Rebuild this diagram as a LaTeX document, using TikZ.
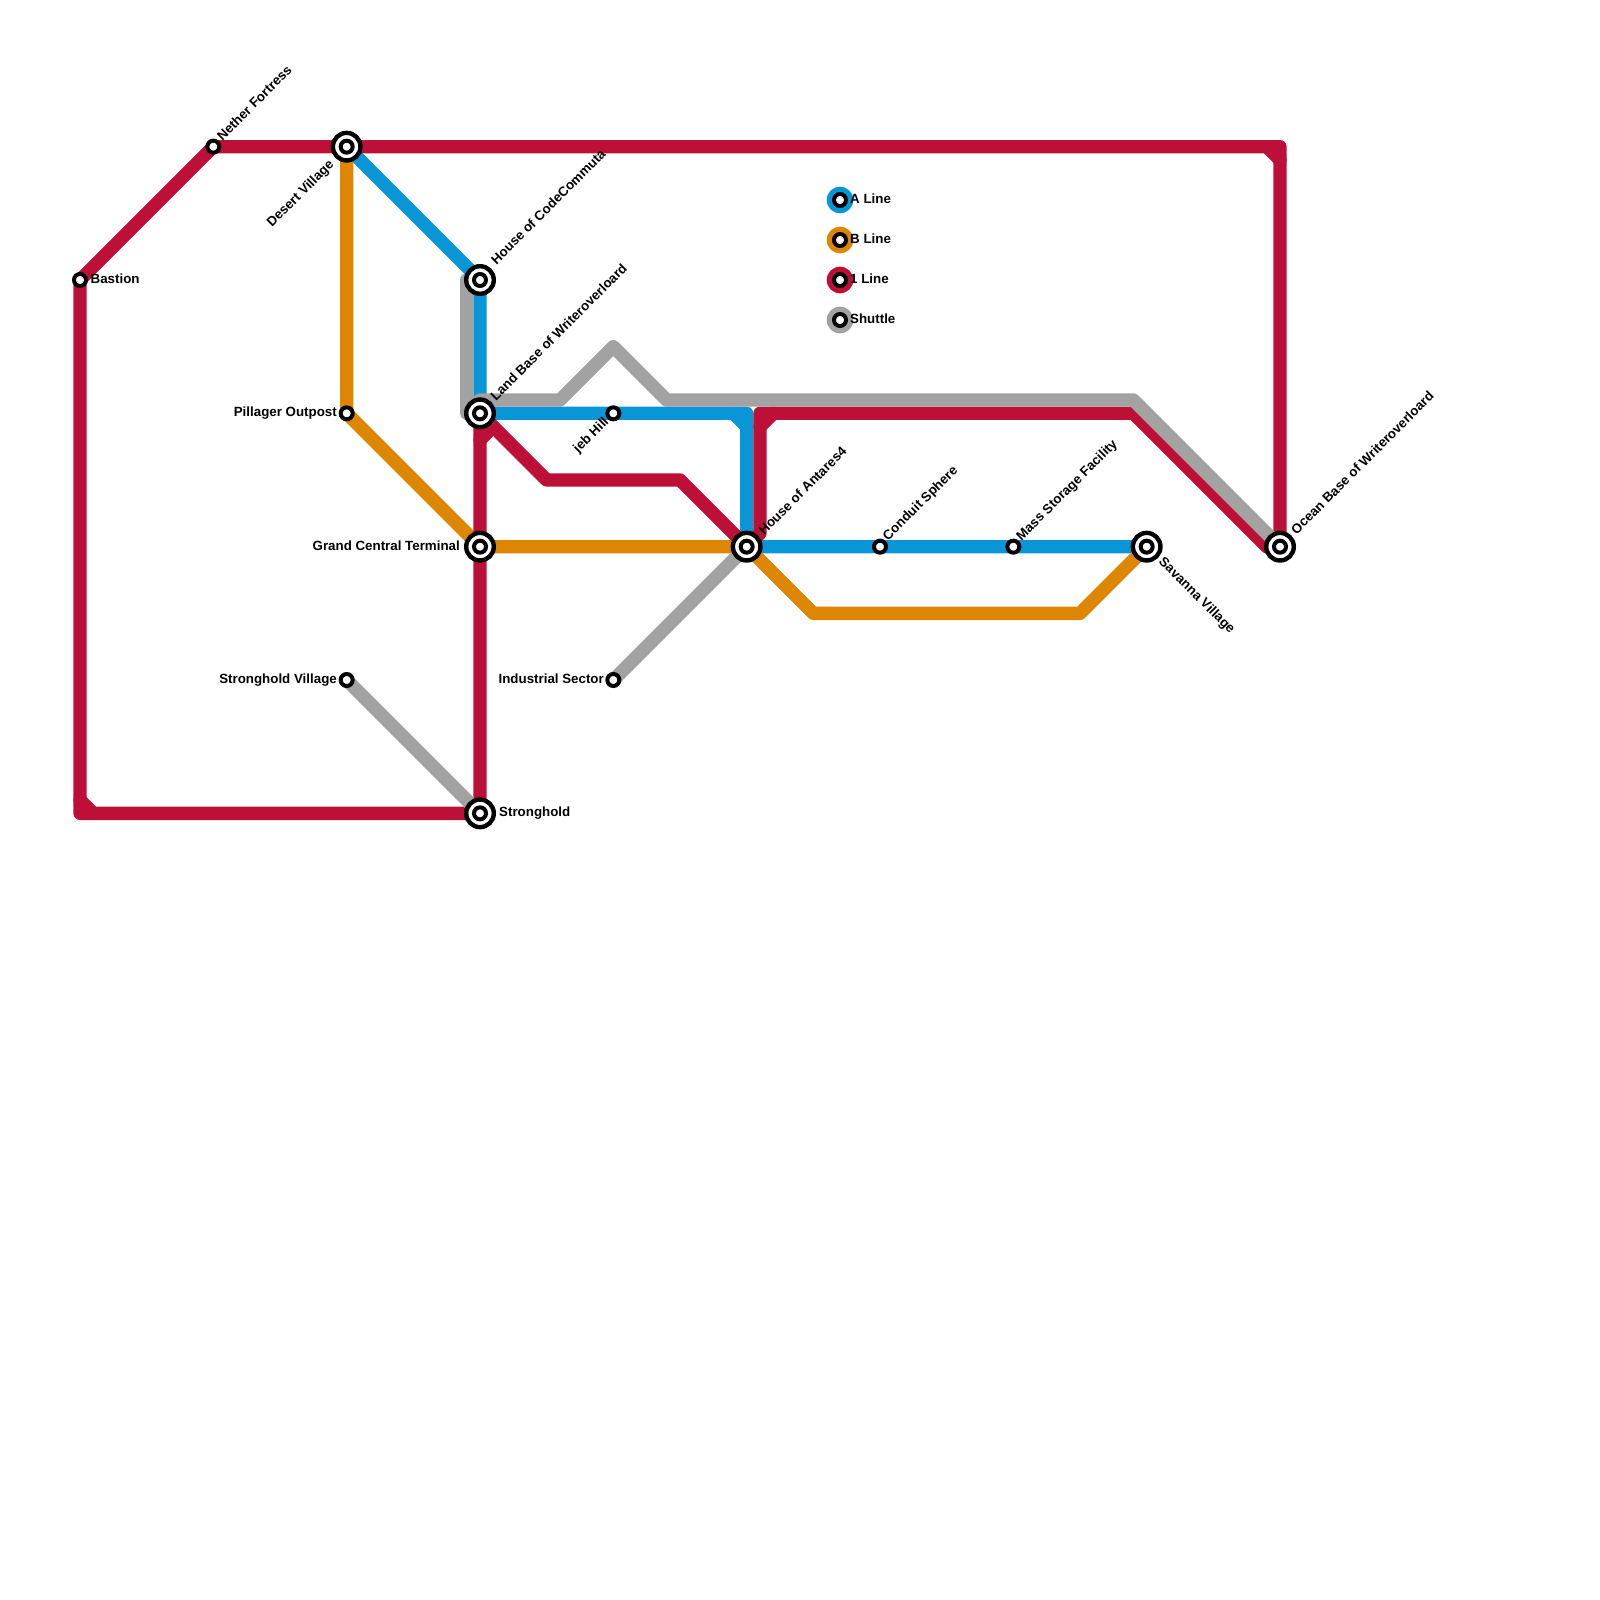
\documentclass[tikz,border=0pt]{standalone}
\usepackage{fontspec}
\setmainfont{Liberation Sans}
\usetikzlibrary{backgrounds}
\definecolor{lineA}{HTML}{0896D7}
\definecolor{lineB}{HTML}{DF8600}
\definecolor{lineOne}{HTML}{BD1038}
\definecolor{lineShuttle}{HTML}{A2A2A2}
\begin{document}
\begin{tikzpicture}[
    x=1pt, y=-1pt,
    route/.style={
        line width=13.33pt,
        line cap=round,
        line join=round
    },
    stop/.style={
        circle,
        draw=black,
        fill=white,
        line width=4pt,
        inner sep=0pt,
        outer sep=0pt,
        minimum size=12pt
    },
    hub/.style={
        circle,
        draw=black,
        fill=white,
        line width=4.4pt,
        inner sep=0pt,
        outer sep=0pt,
        minimum size=27.6pt
    },
    legenddot/.style={
        circle,
        inner sep=0pt,
        outer sep=0pt,
        minimum size=26.67pt
    },
    stationname/.style={
        inner sep=0pt,
        font=\fontsize{13.33}{15}\selectfont\bfseries
    },
    upname/.style={stationname, anchor=west, rotate=45},
    upendname/.style={stationname, anchor=east, rotate=45},
    downname/.style={stationname, anchor=west, rotate=-45},
    leftname/.style={stationname, anchor=east},
    rightname/.style={stationname, anchor=west},
]

\useasboundingbox (0,0) rectangle (1600,1600);

% Interchanges
\foreach \id/\x/\y in {desert/346.67/146.67, codecommuta/480/280, landbase/480/413.33,
    grandcentral/480/546.67, stronghold/480/813.33, antares/746.67/546.67,
    savanna/1146.67/546.67, ocean/1280/546.67} {
    \node[hub] (\id) at (\x,\y) {};
    \node[stop] (\id_in) at (\x,\y) {};
}

% Plain stops
\foreach \id/\x/\y in {bastion/80/280, nether/213.33/146.67, pillager/346.67/413.33,
    strongholdvillage/346.67/680, jebhill/613.33/413.33, industrial/613.33/680,
    conduit/880/546.67, massstorage/1013.33/546.67} {
    \node[stop] (\id) at (\x,\y) {};
}

% Bends
\coordinate (a1) at (733.33,413.33);
\coordinate (a2) at (746.67,413.33);
\coordinate (a3) at (746.67,426.67);
\coordinate (b1) at (813.33,613.33);
\coordinate (b2) at (1080,613.33);
\coordinate (r1) at (1266.67,146.67);
\coordinate (r2) at (1280,146.67);
\coordinate (r3) at (1280,160);
\coordinate (r4) at (80,800);
\coordinate (r5) at (80,813.33);
\coordinate (r6) at (93.33,813.33);
\coordinate (r7) at (480,440);
\coordinate (r8) at (493.33,426.67);
\coordinate (r9) at (546.67,480);
\coordinate (r10) at (680,480);
\coordinate (r11) at (760,533.33);
\coordinate (r12) at (760,426.67);
\coordinate (r13) at (760,413.33);
\coordinate (r14) at (773.33,413.33);
\coordinate (r15) at (1133.33,413.33);
\coordinate (r16) at (1266.67,546.67);
\coordinate (s1) at (466.67,280);
\coordinate (s2) at (466.67,413.33);
\coordinate (s3) at (480,400);
\coordinate (s4) at (560,400);
\coordinate (s5) at (613.33,346.67);
\coordinate (s6) at (666.67,400);
\coordinate (s7) at (1133.33,400);

% Lines, under the stations
\begin{pgfonlayer}{background}
\draw[route, lineA] (desert.center) -- (codecommuta.center) -- (landbase.center) -- (jebhill.center) -- (a2) -- (antares.center) -- (conduit.center) -- (massstorage.center) -- (savanna.center);
\draw[route, lineA] (a1) -- (a3);
\draw[route, lineB] (desert.center) -- (pillager.center) -- (grandcentral.center) -- (antares.center) -- (b1) -- (b2) -- (savanna.center);
\draw[route, lineOne] (bastion.center) -- (nether.center) -- (desert.center) -- (r2) -- (ocean.center) -- (r16) -- (r15) -- (r13) -- (r11) -- (antares.center) -- (r10) -- (r9) -- (landbase.center) -- (stronghold.center) -- (r5) -- (bastion.center);
\draw[route, lineOne] (r1) -- (r3);
\draw[route, lineOne] (r4) -- (r6);
\draw[route, lineOne] (r7) -- (r8);
\draw[route, lineOne] (r12) -- (r14);
\draw[route, lineShuttle] (codecommuta.center) -- (s1) -- (s2) -- (s3) -- (s4) -- (s5) -- (s6) -- (s7) -- (ocean.center);
\draw[route, lineShuttle] (strongholdvillage.center) -- (stronghold.center);
\draw[route, lineShuttle] (industrial.center) -- (antares.center);
\end{pgfonlayer}

% Station names
\node[rightname] (bastion_name) at (90.5,278.5) {Bastion};
\node[upname] (nether_name) at (219,138) {Nether Fortress};
\node[upendname] (desert_name) at (332,163) {Desert Village};
\node[upname] (codecommuta_name) at (493,262) {House of CodeCommuta};
\node[upname] (landbase_name) at (492.5,398) {Land Base of Writeroverloard};
\node[upendname] (jebhill_name) at (607,420) {jeb Hill};
\node[leftname] (pillager_name) at (337,413.5) {Pillager Outpost};
\node[leftname] (grandcentral_name) at (460,545.5) {Grand Central Terminal};
\node[leftname] (strongholdvillage_name) at (337,680) {Stronghold Village};
\node[leftname] (industrial_name) at (604,679) {Industrial Sector};
\node[rightname] (stronghold_name) at (499,813.5) {Stronghold};
\node[upname] (antares_name) at (760.5,532.5) {House of Antares4};
\node[upname] (conduit_name) at (885.5,539) {Conduit Sphere};
\node[upname] (massstorage_name) at (1019,539) {Mass Storage Facility};
\node[downname] (savanna_name) at (1160.5,560) {Savanna Village};
\node[upname] (ocean_name) at (1293,532) {Ocean Base of Writeroverloard};

% Legend
\foreach \id/\col/\y/\txt in {legA/lineA/200/A Line, legB/lineB/240/B Line, legOne/lineOne/280/1 Line, legShuttle/lineShuttle/320/Shuttle} {
    \node[legenddot, fill=\col] (\id) at (840,\y) {};
    \node[stop] (\id_stop) at (840,\y) {};
    \node[rightname] (\id_name) at (850,\y-1.5) {\txt};
}

\end{tikzpicture}
\end{document}
